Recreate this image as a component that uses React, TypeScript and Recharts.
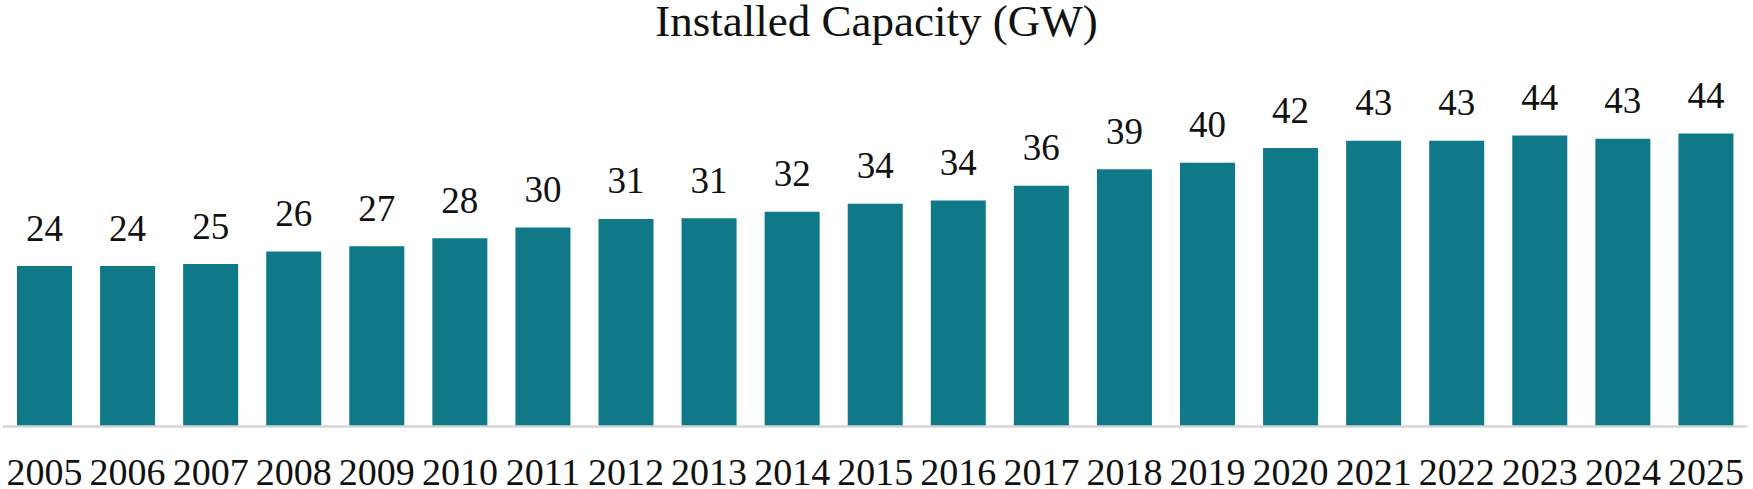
import { BarChart, Bar, XAxis, YAxis, LabelList } from "recharts";

// Installed capacity by year, GW
const years = [
  "2005", "2006", "2007", "2008", "2009", "2010", "2011", "2012", "2013", "2014", "2015",
  "2016", "2017", "2018", "2019", "2020", "2021", "2022", "2023", "2024", "2025",
];
const capacityGW = [
  24.2, 24.2, 24.5, 26.4, 27.2, 28.4, 30.0, 31.3, 31.4, 32.4, 33.6,
  34.1, 36.3, 38.8, 39.8, 42.0, 43.1, 43.1, 43.9, 43.4, 44.2,
];

const FONT = "Liberation Serif";
const BAR_COLOR = "#0f7987";

const data = years.map((year, i) => ({ year, value: capacityGW[i] }));

const YearTick = (props: any) => {
  const { x, y, payload } = props;
  return (
    <text x={x} y={y} dy={58.5} textAnchor="middle" fontFamily={FONT} fontSize={38} fill="#111">
      {payload.value}
    </text>
  );
};

const ValueLabel = (props: any) => {
  const { x, y, width, value } = props;
  return (
    <text
      x={Number(x) + Number(width) / 2}
      y={Number(y) - 25.5}
      textAnchor="middle"
      fontFamily={FONT}
      fontSize={37}
      fill="#111"
    >
      {Math.round(value)}
    </text>
  );
};

export default function App() {
  return (
    <div style={{ position: "absolute", left: 0, top: 0, width: 1753, height: 489, background: "#fff" }}>
      <div
        style={{
          position: "absolute",
          top: 0,
          left: 0,
          width: 1753,
          textAlign: "center",
          fontFamily: FONT,
          fontSize: 45,
          lineHeight: "42px",
          color: "#111",
        }}
      >
        Installed Capacity (GW)
      </div>
      <BarChart
        width={1753}
        height={489}
        data={data}
        margin={{ top: 95, right: 5.5, left: 3, bottom: 0 }}
        barSize={55}
      >
        <XAxis
          dataKey="year"
          height={62.5}
          axisLine={{ stroke: "#d6d6d6", strokeWidth: 2.5 }}
          tickLine={false}
          tickSize={0}
          tickMargin={0}
          interval={0}
          tick={<YearTick />}
        />
        <YAxis hide domain={[0, 50]} />
        <Bar dataKey="value" fill={BAR_COLOR} isAnimationActive={false}>
          <LabelList dataKey="value" content={<ValueLabel />} />
        </Bar>
      </BarChart>
    </div>
  );
}
